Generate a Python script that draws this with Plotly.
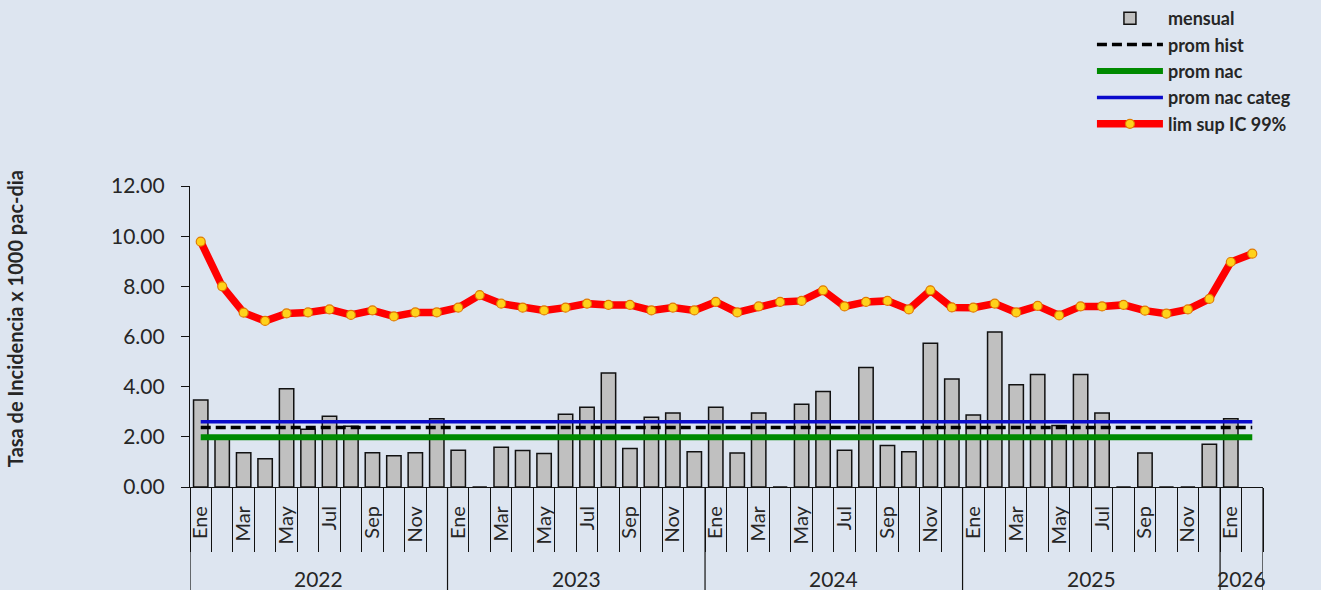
import plotly.graph_objects as go

# ---------------- data ----------------
years = ["2022", "2023", "2024", "2025", "2026"]
months = ["Ene", "Feb", "Mar", "Abr", "May", "Jun", "Jul", "Ago", "Sep", "Oct", "Nov", "Dic"]
labeled_months = ["Ene", "Mar", "May", "Jul", "Sep", "Nov"]

mensual = [
    # 2022
    3.47, 1.95, 1.37, 1.13, 3.92, 2.30, 2.82, 2.42, 1.37, 1.25, 1.37, 2.72,
    # 2023
    1.47, 0.0, 1.58, 1.46, 1.34, 2.90, 3.18, 4.54, 1.53, 2.78, 2.95, 1.41,
    # 2024
    3.18, 1.36, 2.95, 0.0, 3.30, 3.81, 1.47, 4.76, 1.65, 1.41, 5.73, 4.31,
    # 2025
    2.87, 6.18, 4.08, 4.49, 2.45, 4.49, 2.95, 0.0, 1.36, 0.0, 0.0, 1.70,
    # 2026
    2.72, None,
]

lim_sup = [
    9.78, 8.00, 6.95, 6.62, 6.92, 6.96, 7.08, 6.86, 7.04, 6.80, 6.96, 6.96,
    7.15, 7.65, 7.31, 7.15, 7.04, 7.15, 7.31, 7.26, 7.26, 7.04, 7.15, 7.04,
    7.38, 6.96, 7.20, 7.38, 7.42, 7.84, 7.20, 7.38, 7.42, 7.08, 7.84, 7.16,
    7.15, 7.31, 6.96, 7.22, 6.84, 7.20, 7.20, 7.26, 7.03, 6.91, 7.08, 7.50,
    8.97, 9.30,
]

prom_hist_value = 2.37
prom_nac_value = 1.98
prom_nac_categ_value = 2.60

y_title = "Tasa de Incidencia x 1000 pac-dia"

# category list (year, month)
periods = []
for y in years[:-1]:
    for m in months:
        periods.append((y, m))
periods += [("2026", "Ene"), ("2026", "Feb")]
n = len(periods)
xs = list(range(n))

prom_hist = [prom_hist_value] * n
prom_nac = [prom_nac_value] * n
prom_nac_categ = [prom_nac_categ_value] * n

# tick labels (only odd months are labelled)
tick_vals = [i for i, (y, m) in enumerate(periods) if m in labeled_months]
tick_text = [periods[i][1] for i in tick_vals]

# year groups
year_start = {}
year_end = {}
for i, (y, m) in enumerate(periods):
    year_start.setdefault(y, i)
    year_end[y] = i

# ---------------- figure ----------------
BG = "#DDE5F0"
FONT = "Lato"
TXT = "#262626"

fig = go.Figure()

fig.add_trace(go.Bar(
    x=xs, y=mensual, name="mensual",
    marker=dict(color="#C0C0C0", line=dict(color="#111111", width=1.5)),
))
fig.add_trace(go.Scatter(
    x=xs, y=prom_hist, name="prom hist", mode="lines",
    line=dict(color="#000000", width=3.5, dash="10px,5px"),
))
fig.add_trace(go.Scatter(
    x=xs, y=prom_nac, name="prom nac", mode="lines",
    line=dict(color="#008A00", width=6),
))
fig.add_trace(go.Scatter(
    x=xs, y=prom_nac_categ, name="prom nac categ", mode="lines",
    line=dict(color="#0A0ACC", width=3.5),
))
fig.add_trace(go.Scatter(
    x=xs, y=lim_sup, name="lim sup IC 99%", mode="lines+markers",
    line=dict(color="#FF0000", width=7.5),
    marker=dict(color="#FFD21A", size=9, line=dict(color="#E07A00", width=1.2)),
))

# month separators (minor ticks) and year separators (shapes)
boundaries = [i - 0.5 for i in range(n + 1)]
shapes = []
year_bounds = sorted(set([year_start[y] - 0.5 for y in years] + [n - 0.5]))
for b in year_bounds:
    shapes.append(dict(type="line", xref="x", yref="paper", x0=b, x1=b,
                       y0=0, y1=-0.345, line=dict(color="#111111", width=1.2)))

annotations = []
for y in years:
    c = (year_start[y] + year_end[y]) / 2.0
    annotations.append(dict(x=c, y=-0.305, xref="x", yref="paper", text=y,
                            showarrow=False, yanchor="middle",
                            font=dict(family=FONT, size=21, color=TXT)))
# y-axis title
annotations.append(dict(x=-0.163, y=0.558, xref="paper", yref="paper", text=y_title,
                        showarrow=False, textangle=-90, xanchor="center", yanchor="middle",
                        font=dict(family=FONT, size=20, color=TXT, weight="bold")))

fig.update_layout(
    width=1321, height=590,
    margin=dict(l=190, r=58, t=186, b=103, autoexpand=False),
    paper_bgcolor=BG, plot_bgcolor=BG,
    bargap=0.33,
    showlegend=True,
    legend=dict(xref="container", yref="container", x=0.8266, y=1.02,
                xanchor="left", yanchor="top",
                bgcolor="rgba(0,0,0,0)", itemwidth=66,
                font=dict(family=FONT, size=18, color=TXT, weight="bold"),
                tracegroupgap=0, itemclick=False),
    shapes=shapes,
    annotations=annotations,
    xaxis=dict(
        range=[-0.5, n - 0.5], tickmode="array", tickvals=tick_vals, ticktext=tick_text,
        tickangle=-90, ticks="", showgrid=False, zeroline=False,
        showline=True, linecolor="#111111", linewidth=1.2,
        tickfont=dict(family=FONT, size=20, color=TXT),
        ticklabelstandoff=10,
        minor=dict(tickmode="array", tickvals=boundaries, ticks="outside",
                   ticklen=64, tickcolor="#111111", tickwidth=1.2, showgrid=False),
    ),
    yaxis=dict(
        range=[0, 12], tickmode="array", tickvals=[0, 2, 4, 6, 8, 10, 12],
        tickformat=".2f", ticks="outside", ticklen=8, tickcolor="#111111",
        showgrid=False, zeroline=False, showline=True, linecolor="#111111", linewidth=1.2,
        tickfont=dict(family=FONT, size=21, color=TXT), ticklabelstandoff=12,
    ),
)

fig.write_html(
    "out.html",
    config={"displayModeBar": False},
    post_script="document.body.style.margin='0';document.body.style.overflow='hidden';"
                "document.body.style.background='" + BG + "';",
)
